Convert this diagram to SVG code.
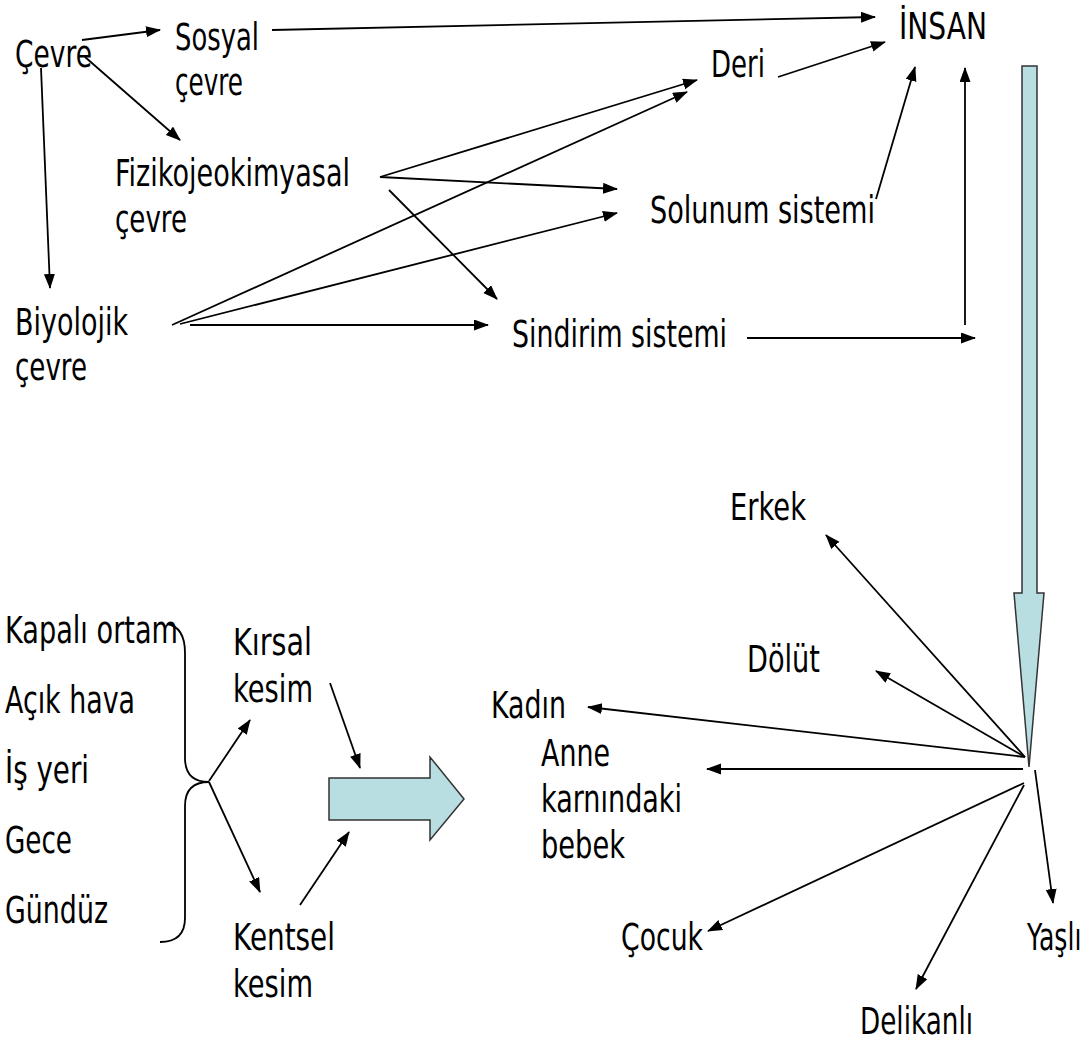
<svg xmlns="http://www.w3.org/2000/svg" width="1092" height="1041" viewBox="0 0 1092 1041">
<style>
text{font-family:"DejaVu Sans","Liberation Sans",sans-serif;font-size:37px;fill:#000}
.c line,.c path{stroke:#000;stroke-width:1.8;fill:none}
.big{fill:#b8dee2;stroke:#333;stroke-width:1.5;stroke-linejoin:miter}
</style>
<defs>
<marker id="ah" markerUnits="userSpaceOnUse" markerWidth="16" markerHeight="12" refX="14" refY="5.5" orient="auto">
<path d="M0,0 L15,5.5 L0,11 z" fill="#000"/>
</marker>
</defs>
<rect width="1092" height="1041" fill="#fff"/>

<g id="nodes">
<g id="cevre"><text x="15" y="67" textLength="77" lengthAdjust="spacingAndGlyphs">Çevre</text></g>
<g id="sosyal"><text x="175" y="50" textLength="84" lengthAdjust="spacingAndGlyphs">Sosyal</text><text x="175" y="95" textLength="68" lengthAdjust="spacingAndGlyphs">çevre</text></g>
<g id="insan"><text x="899" y="39" textLength="88" lengthAdjust="spacingAndGlyphs">İNSAN</text></g>
<g id="deri"><text x="711" y="77" textLength="54" lengthAdjust="spacingAndGlyphs">Deri</text></g>
<g id="fiziko"><text x="115" y="186" textLength="235" lengthAdjust="spacingAndGlyphs">Fizikojeokimyasal</text><text x="115" y="232" textLength="72" lengthAdjust="spacingAndGlyphs">çevre</text></g>
<g id="solunum"><text x="650" y="223" textLength="225" lengthAdjust="spacingAndGlyphs">Solunum sistemi</text></g>
<g id="biyolojik"><text x="15" y="335" textLength="113" lengthAdjust="spacingAndGlyphs">Biyolojik</text><text x="15" y="380" textLength="72" lengthAdjust="spacingAndGlyphs">çevre</text></g>
<g id="sindirim"><text x="512" y="347" textLength="215" lengthAdjust="spacingAndGlyphs">Sindirim sistemi</text></g>

<g id="ortamlar">
<text x="5" y="643" textLength="173" lengthAdjust="spacingAndGlyphs">Kapalı ortam</text>
<text x="5" y="713" textLength="130" lengthAdjust="spacingAndGlyphs">Açık hava</text>
<text x="5" y="783" textLength="84" lengthAdjust="spacingAndGlyphs">İş yeri</text>
<text x="5" y="853" textLength="67" lengthAdjust="spacingAndGlyphs">Gece</text>
<text x="5" y="923" textLength="103" lengthAdjust="spacingAndGlyphs">Gündüz</text>
</g>
<g id="kirsal"><text x="233" y="655" textLength="79" lengthAdjust="spacingAndGlyphs">Kırsal</text><text x="233" y="702" textLength="80" lengthAdjust="spacingAndGlyphs">kesim</text></g>
<g id="kentsel"><text x="233" y="950" textLength="102" lengthAdjust="spacingAndGlyphs">Kentsel</text><text x="233" y="997" textLength="80" lengthAdjust="spacingAndGlyphs">kesim</text></g>

<g id="erkek"><text x="730" y="520" textLength="76" lengthAdjust="spacingAndGlyphs">Erkek</text></g>
<g id="dolut"><text x="747" y="672" textLength="73" lengthAdjust="spacingAndGlyphs">Dölüt</text></g>
<g id="kadin"><text x="491" y="718" textLength="75" lengthAdjust="spacingAndGlyphs">Kadın</text></g>
<g id="anne"><text x="541" y="766" textLength="69" lengthAdjust="spacingAndGlyphs">Anne</text><text x="541" y="812" textLength="141" lengthAdjust="spacingAndGlyphs">karnındaki</text><text x="541" y="858" textLength="84" lengthAdjust="spacingAndGlyphs">bebek</text></g>
<g id="cocuk"><text x="621" y="950" textLength="82" lengthAdjust="spacingAndGlyphs">Çocuk</text></g>
<g id="delikanli"><text x="860" y="1034" textLength="113" lengthAdjust="spacingAndGlyphs">Delikanlı</text></g>
<g id="yasli"><text transform="translate(1027,950) scale(0.68,1)">Yaşlı</text></g>

<g id="down-arrow"><polygon class="big" points="1022,66 1037,66 1037,593 1044,593 1029,767 1014,593 1022,593"/></g>
<g id="right-arrow"><polygon class="big" points="329,778 430,778 430,757 464,799 430,840 430,820 329,820"/></g>
</g>

<g id="connectors" class="c">
<path d="M167,624 Q185,627 185,653 L185,758 Q185,782 209,782 Q185,782 185,806 L185,918 Q185,942 160,942"/>
<line x1="82" y1="40" x2="160" y2="30" marker-end="url(#ah)"/>
<line x1="85" y1="57" x2="180" y2="140" marker-end="url(#ah)"/>
<line x1="41" y1="68" x2="50" y2="288" marker-end="url(#ah)"/>
<line x1="272" y1="30" x2="875" y2="17" marker-end="url(#ah)"/>
<line x1="778" y1="77" x2="885" y2="42" marker-end="url(#ah)"/>
<line x1="876" y1="199" x2="915" y2="67" marker-end="url(#ah)"/>
<line x1="965" y1="325" x2="965" y2="68" marker-end="url(#ah)"/>
<line x1="747" y1="338" x2="975" y2="338" marker-end="url(#ah)"/>
<line x1="380" y1="177" x2="697" y2="80" marker-end="url(#ah)"/>
<line x1="380" y1="177" x2="617" y2="189" marker-end="url(#ah)"/>
<line x1="389" y1="190" x2="497" y2="299" marker-end="url(#ah)"/>
<line x1="172" y1="325" x2="687" y2="92" marker-end="url(#ah)"/>
<line x1="180" y1="324" x2="617" y2="213" marker-end="url(#ah)"/>
<line x1="190" y1="325" x2="488" y2="325" marker-end="url(#ah)"/>
<line x1="209" y1="781" x2="250" y2="720" marker-end="url(#ah)"/>
<line x1="209" y1="782" x2="260" y2="892" marker-end="url(#ah)"/>
<line x1="330" y1="683" x2="360" y2="768" marker-end="url(#ah)"/>
<line x1="300" y1="905" x2="349" y2="832" marker-end="url(#ah)"/>
<line x1="1025" y1="757" x2="826" y2="535" marker-end="url(#ah)"/>
<line x1="1025" y1="757" x2="876" y2="671" marker-end="url(#ah)"/>
<line x1="1025" y1="757" x2="588" y2="707" marker-end="url(#ah)"/>
<line x1="1023" y1="769" x2="707" y2="769" marker-end="url(#ah)"/>
<line x1="1024" y1="783" x2="708" y2="931" marker-end="url(#ah)"/>
<line x1="1024" y1="785" x2="916" y2="989" marker-end="url(#ah)"/>
<line x1="1035" y1="770" x2="1053" y2="903" marker-end="url(#ah)"/>
</g>
</svg>
